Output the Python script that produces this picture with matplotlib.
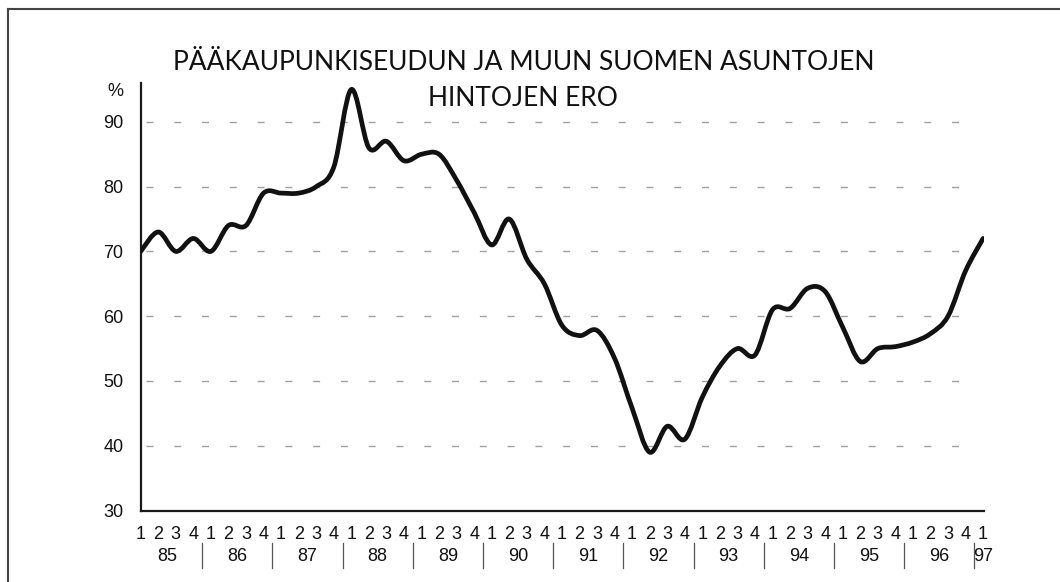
import matplotlib
matplotlib.use("Agg")
import matplotlib.pyplot as plt
import numpy as np
from matplotlib.path import Path
from matplotlib.patches import PathPatch
from matplotlib.lines import Line2D
import matplotlib.transforms as mtransforms

# ---- data ----
quarter_labels = ["1", "2", "3", "4"] * 12 + ["1"]
years = ["85", "86", "87", "88", "89", "90", "91", "92", "93", "94", "95", "96", "97"]
values = [70, 73, 70, 72, 70, 74, 74, 79, 79, 79,
          80, 83, 95, 86, 87, 84, 85, 85, 81, 76,
          71, 75, 68.8, 65, 58.6, 57, 57.8, 53.5, 45.8, 39,
          43, 41, 47.5, 52.3, 55, 54, 61, 61.2, 64.3, 63.8,
          58.3, 53, 55, 55.3, 56, 57.3, 60, 67, 72]
y_ticks = [30, 40, 50, 60, 70, 80, 90]
title_lines = ["PÄÄKAUPUNKISEUDUN JA MUUN SUOMEN ASUNTOJEN", "HINTOJEN ERO"]

W, H = 1060, 582
fig = plt.figure(figsize=(W / 100, H / 100), dpi=100)
fig.patch.set_facecolor("white")

ax = fig.add_axes([140.7 / W, 71.5 / H, (984 - 140.7) / W, (499 - 71.5) / H])
ax.set_facecolor("white")
ax.set_xlim(0, 48.05)
ax.set_ylim(30, 96)

for s in ["top", "right"]:
    ax.spines[s].set_visible(False)
for s in ["left", "bottom"]:
    ax.spines[s].set_linewidth(1.6)
    ax.spines[s].set_color("#1a1a1a")

# gridlines
for yv in y_ticks[1:]:
    ax.plot([0.3, 47.3], [yv, yv], color="#a0a0a0", lw=1.0,
            dashes=(5, 15), zorder=1)

# smooth line (Catmull-Rom as cubic Bezier)
x = np.arange(len(values), dtype=float)
y = np.asarray(values, dtype=float)
pts = np.column_stack([x, y])
ext = np.vstack([pts[0], pts, pts[-1]])
verts = [tuple(pts[0])]
codes = [Path.MOVETO]
for k in range(len(pts) - 1):
    p0, p1, p2, p3 = ext[k], ext[k + 1], ext[k + 2], ext[k + 3]
    c1 = p1 + (p2 - p0) / 6.0
    c2 = p2 - (p3 - p1) / 6.0
    verts += [tuple(c1), tuple(c2), tuple(p2)]
    codes += [Path.CURVE4] * 3
patch = PathPatch(Path(verts, codes), facecolor="none", edgecolor="#111111",
                  lw=3.4, capstyle="round", joinstyle="round", zorder=3)
ax.add_patch(patch)

# y ticks
ax.set_yticks(y_ticks)
ax.set_yticklabels([str(v) for v in y_ticks], fontsize=13,
                   family="Liberation Sans", color="#111111")
ax.tick_params(axis="y", length=0, pad=12.5)
ax.text(-17.7 / 17.55, 1 - 91.5 / H, "%",
        transform=mtransforms.blended_transform_factory(ax.transData, fig.transFigure),
        fontsize=13, family="Liberation Sans", ha="right", va="center", color="#111111")

# x labels
ax.set_xticks(np.arange(len(quarter_labels)))
ax.set_xticklabels(quarter_labels, fontsize=13, family="Liberation Sans", color="#111111")
ax.tick_params(axis="x", length=0, pad=11)

trans = mtransforms.blended_transform_factory(ax.transData, fig.transFigure)
for j, yr in enumerate(years):
    xc = 4 * j + 1.5 if j < len(years) - 1 else 48.0
    ax.text(xc, 1 - 556.5 / H, yr, transform=trans, fontsize=13,
            family="Liberation Sans", ha="center", va="center", color="#111111")
for j in range(len(years) - 1):
    xs = 4 * j + 3.5
    ax.add_line(Line2D([xs, xs], [1 - 543 / H, 1 - 568 / H], transform=trans,
                       color="#555555", lw=0.9, clip_on=False))

# title
fig.text(523.5 / W, 1 - 63 / H, title_lines[0], ha="center", va="center",
         fontsize=19, family="Lato", color="#111111")
fig.text(523 / W, 1 - 98 / H, title_lines[1], ha="center", va="center",
         fontsize=19, family="Lato", color="#111111")

# frame lines
fig.add_artist(Line2D([8 / W, 1.0], [1 - 9 / H, 1 - 9 / H],
                      transform=fig.transFigure, color="#444444", lw=1.5))
fig.add_artist(Line2D([8 / W, 8 / W], [0, 1 - 9 / H],
                      transform=fig.transFigure, color="#444444", lw=1.5))

fig.savefig("out.png", dpi=100, facecolor="white")
